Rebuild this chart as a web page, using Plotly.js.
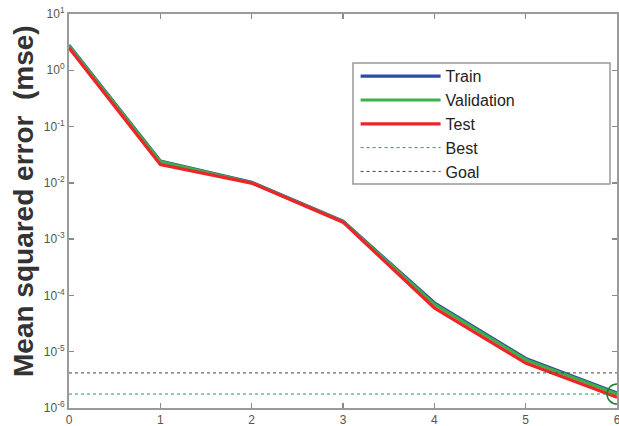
<!DOCTYPE html>
<html>
<head>
<meta charset="utf-8">
<script src="https://cdn.plot.ly/plotly-3.0.1.min.js"></script>
<style>html,body{margin:0;padding:0;background:#fff;}#chart{width:619px;height:426px;}</style>
</head>
<body>
<div id="chart"></div>
<script>
// Data
const epochs = [0, 1, 2, 3, 4, 5, 6];
const trainMse = [2.8, 0.0245, 0.0102, 0.00208, 7.4e-5, 7.6e-6, 1.85e-6];
const validationMse = [2.7, 0.0238, 0.0100, 0.00205, 7.0e-5, 7.2e-6, 1.77e-6];
const testMse = [2.5, 0.0212, 0.0099, 0.00200, 6.0e-5, 6.3e-6, 1.55e-6];
const bestEpoch = 6;
const bestMse = 1.77e-6;
const goalMse = 4.2e-6;
const xTicks = [0, 1, 2, 3, 4, 5, 6];
const yTickExponents = [-6, -5, -4, -3, -2, -1, 0, 1];
const yTicks = yTickExponents.map(e => Math.pow(10, e));
const yTickLabels = yTickExponents.map(e => '10<sup>' + e + '</sup>');
const yTitle = 'Mean squared error\u00a0 (mse)';

const C = {train: '#2c4b9e', val: '#3bb04a', test: '#ee2428', best: '#2a9a55', goal: '#444444'};

const traces = [
  {x: epochs, y: trainMse, name: 'Train', mode: 'lines', line: {color: C.train, width: 3.2}},
  {x: epochs, y: validationMse, name: 'Validation', mode: 'lines', line: {color: C.val, width: 3.2}},
  {x: epochs, y: testMse, name: 'Test', mode: 'lines', line: {color: C.test, width: 3.2}},
  {x: [epochs[0], epochs[epochs.length-1]], y: [bestMse, bestMse], name: 'Best', mode: 'lines', line: {color: C.best, width: 1, dash: 'dot'}},
  {x: [epochs[0], epochs[epochs.length-1]], y: [goalMse, goalMse], name: 'Goal', mode: 'lines', line: {color: C.goal, width: 1, dash: 'dot'}},
  {x: [bestEpoch], y: [bestMse], mode: 'markers', showlegend: false, cliponaxis: false,
   marker: {symbol: 'circle-open', size: 20, color: '#1f7a3c', line: {width: 1.5, color: '#1f7a3c'}}}
];

const axisCommon = {
  showgrid: false, zeroline: false, showline: true, linecolor: '#9a9a9a', linewidth: 2,
  mirror: 'ticks', ticks: 'inside', ticklen: 5, tickcolor: '#8a8a8a', tickwidth: 1.5,
  ticklabeloverflow: 'allow',
  tickfont: {family: 'Liberation Sans, Arial, sans-serif', size: 12, color: '#555'}
};

const layout = {
  width: 619, height: 426,
  margin: {l: 69, r: 2, t: 14, b: 18},
  paper_bgcolor: '#fff', plot_bgcolor: '#fff',
  showlegend: true,
  font: {family: 'Liberation Sans, Arial, sans-serif'},
  xaxis: Object.assign({}, axisCommon, {range: [0, 6], tickvals: xTicks, ticktext: xTicks.map(String)}),
  yaxis: Object.assign({}, axisCommon, {
    type: 'log', range: [-6, 1], tickvals: yTicks, ticktext: yTickLabels
  }),
  annotations: [{text: yTitle, xref: 'paper', yref: 'paper', x: (23 - 69) / 548, y: (408 - 201) / 394,
                 xanchor: 'center', yanchor: 'middle', textangle: -90, showarrow: false,
                 font: {family: 'Liberation Sans, Arial, sans-serif', size: 28, color: '#333', weight: 'bold'}}],
  legend: {x: 0.523, y: 0.885, xanchor: 'left', yanchor: 'top', bgcolor: 'rgba(0,0,0,0)', borderwidth: 0,
           itemwidth: 80, tracegroupgap: 0,
           font: {family: 'Liberation Sans, Arial, sans-serif', size: 16, color: '#222'}},
  shapes: [{type: 'rect', xref: 'paper', yref: 'paper', x0: (353-69)/548, x1: (610-69)/548,
            y0: (408-184)/394, y1: (408-63)/394, line: {color: '#999', width: 1.5}, fillcolor: 'rgba(0,0,0,0)'}]
};

Plotly.newPlot('chart', traces, layout, {displayModeBar: false, staticPlot: true});
</script>
</body>
</html>
